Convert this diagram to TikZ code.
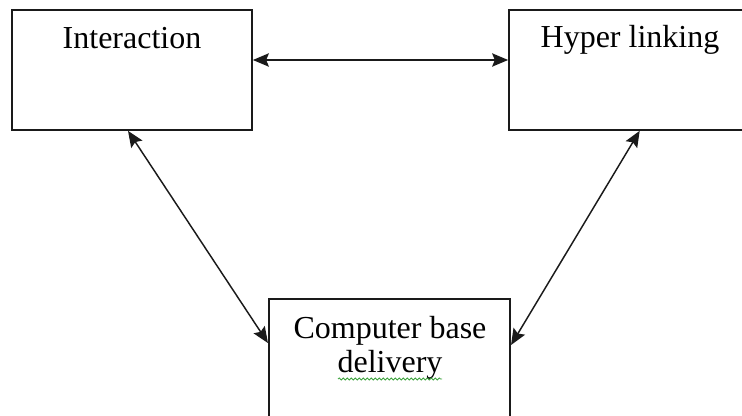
\documentclass[tikz,border=0pt]{standalone}
\usepackage{fontspec}
\setmainfont{Liberation Serif}
\usepackage{tikz}
\usetikzlibrary{
  arrows.meta,
  positioning,
  calc,
  decorations.pathmorphing
}
\definecolor{cbLine}{HTML}{1A1A1A}
\definecolor{cbSpell}{HTML}{3DA33D}
\tikzset{
  cbbox/.style={
    draw=cbLine, line width=1.3pt, minimum width=180pt, minimum height=90pt,
    inner sep=0pt
  },
  cbtext/.style={font=\fontsize{24}{26}\selectfont, anchor=base, align=center, inner sep=0pt},
  link/.style={{Stealth[length=12pt, width=10pt, inset=2pt]}-{Stealth[length=12pt, width=10pt, inset=2pt]},
    line width=1.1pt, cbLine},
  spell/.style={cbSpell, line width=0.6pt,
    decorate, decoration={snake, amplitude=0.8pt, segment length=3pt}}
}
\begin{document}
\begin{tikzpicture}[x=0.75pt, y=-0.75pt]
  \useasboundingbox (0,0) rectangle (742,416);
  % boxes
  \node[cbbox] (inter) at (132,70) {};
  \node[cbbox] (hyper) at (629,70) {};
  \node[cbbox, minimum width=181pt] (comp) at (389.5,359) {};
  % labels
  \node[cbtext] (intertxt) at (132,49) {Interaction};
  \node[cbtext] (hypertxt) at (630,48) {Hyper linking};
  \node[cbtext] (comptxt) at (390,373) {Computer base\\delivery};
  \draw[spell] (338,379) -- (442,379);
  % links
  \draw[link] ([yshift=7.5pt]inter.east) -- ([yshift=7.5pt]hyper.west);
  \draw[link] ([xshift=-3pt]inter.south) -- ([yshift=12pt]comp.west);
  \draw[link] ([xshift=8pt]hyper.south) -- ([yshift=10.5pt]comp.east);
\end{tikzpicture}
\end{document}
